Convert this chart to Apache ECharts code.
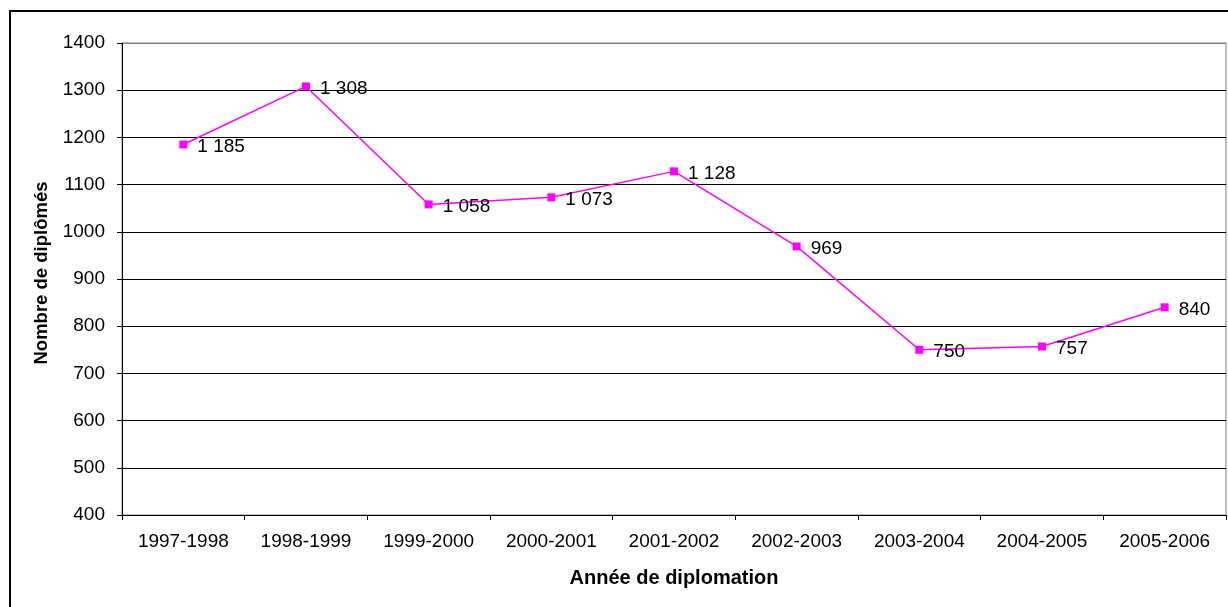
<!DOCTYPE html>
<html>
<head>
<meta charset="utf-8">
<script src="https://cdn.jsdelivr.net/npm/echarts@6/dist/echarts.min.js"></script>
<style>
    html, body { margin: 0; padding: 0; background: #fff; }
    #chart { width: 1228px; height: 607px; }
</style>
</head>
<body>
<div id="chart"></div>
<script>
const years = ['1997-1998', '1998-1999', '1999-2000', '2000-2001', '2001-2002',
    '2002-2003', '2003-2004', '2004-2005', '2005-2006'];
const diplomes = [1185, 1308, 1058, 1073, 1128, 969, 750, 757, 840];

const yMin = 400;
const yMax = 1400;
const yStep = 100;

const chart = echarts.init(document.getElementById('chart'));

// thousands with a plain space, like "1 185"
function fmt(v) {
    return String(v).replace(/\B(?=(\d{3})+(?!\d))/g, ' ');
}

// split lines black, the top one grey like the plot border
const splitColors = [];
for (let v = yMin; v <= yMax; v += yStep) {
    splitColors.push(v === yMax ? '#808080' : '#000000');
}

const option = {
    animation: false,
    textStyle: { fontFamily: 'Liberation Sans, Arial, sans-serif' },
    graphic: [
        {
            type: 'rect',
            silent: true,
            shape: { x: 10, y: 11, width: 1400, height: 800 },
            style: { fill: 'none', stroke: '#000', lineWidth: 2 }
        }
    ],
    grid: {
        left: 122,
        right: 2,
        top: 43,
        bottom: 92,
        show: true,
        borderColor: '#808080',
        borderWidth: 1
    },
    xAxis: {
        type: 'category',
        data: years,
        name: 'Année de diplomation',
        nameLocation: 'middle',
        nameGap: 53,
        nameTextStyle: { fontSize: 20, fontWeight: 'bold', color: '#000' },
        axisLine: { lineStyle: { color: '#000', width: 1 } },
        axisTick: { show: true, length: 5, lineStyle: { color: '#000' } },
        axisLabel: { fontSize: 19, color: '#000', margin: 17 }
    },
    yAxis: {
        type: 'value',
        min: yMin,
        max: yMax,
        interval: yStep,
        name: 'Nombre de diplômés',
        nameLocation: 'middle',
        nameGap: 68,
        nameTextStyle: {
            fontSize: 18.5, fontWeight: 'bold', color: '#000',
            padding: [0, 0, 0, 12]
        },
        axisLine: { show: true, lineStyle: { color: '#000', width: 1 } },
        axisTick: { show: true, length: 5, lineStyle: { color: '#000' } },
        axisLabel: { fontSize: 19, color: '#000', margin: 17, formatter: v => String(v) },
        splitLine: { show: true, lineStyle: { color: splitColors, width: 1 } }
    },
    series: [
        {
            type: 'line',
            data: diplomes,
            symbol: 'rect',
            symbolSize: 8,
            lineStyle: { color: '#ff00ff', width: 1.5 },
            itemStyle: { color: '#ff00ff' },
            label: {
                show: true,
                position: 'right',
                distance: 10,
                offset: [0, 2],
                fontSize: 19,
                color: '#000',
                formatter: p => fmt(p.value)
            }
        }
    ]
};

chart.setOption(option);
window.addEventListener('resize', () => chart.resize());
</script>
</body>
</html>
